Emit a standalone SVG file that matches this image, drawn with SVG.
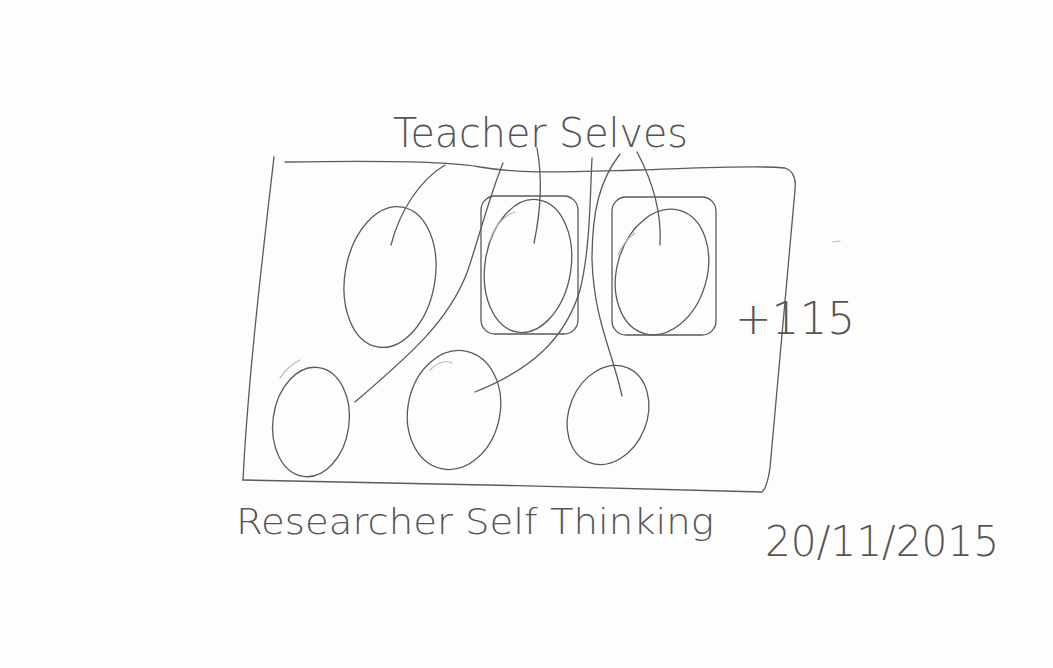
<svg xmlns="http://www.w3.org/2000/svg" width="1053" height="668" viewBox="0 0 1053 668">
<style>
.s{fill:none;stroke:#5a5a5a;stroke-width:1.3;stroke-linecap:round;stroke-linejoin:round}
.g{fill:none;stroke:#b8b8b8;stroke-width:1.2;stroke-linecap:round}
.t{font-family:"DejaVu Sans","Liberation Sans",sans-serif;font-weight:200;fill:#555}
</style>
<rect width="1053" height="668" fill="#fdfdfd"/>
<g id="frame">
<path class="s" d="M285,162 C400,160 455,162 480,167 C520,174 560,172 640,170 C700,168 760,165 785,168 Q797,172 795,190 L770,468 Q767,488 762,492 C600,488 400,482 243,480"/>
<path class="s" d="M274,157 C262,260 248,380 243,480"/>
</g>
<g id="teacher-self-1"><ellipse class="s" cx="390" cy="277" rx="45" ry="71" transform="rotate(10 390 277)"/></g>
<g id="teacher-self-2">
<rect class="s" x="481" y="196" width="97" height="138" rx="14"/>
<ellipse class="s" cx="528" cy="266" rx="43" ry="67" transform="rotate(9 528 266)"/>
<path class="g" d="M490,240 C495,225 505,215 515,212"/>
</g>
<g id="teacher-self-3">
<rect class="s" x="612" y="197" width="104" height="138" rx="14"/>
<ellipse class="s" cx="662" cy="272" rx="45" ry="64" transform="rotate(16 662 272)"/>
<path class="g" d="M618,255 C622,245 628,238 635,233"/>
</g>
<g id="teacher-self-4"><ellipse class="s" cx="311" cy="422" rx="38" ry="55" transform="rotate(8 311 422)"/>
<path class="g" d="M280,378 C285,370 292,364 300,360"/></g>
<g id="teacher-self-5"><ellipse class="s" cx="454" cy="410" rx="46" ry="60" transform="rotate(12 454 410)"/>
<path class="g" d="M430,370 C438,362 445,360 452,363"/></g>
<g id="teacher-self-6"><ellipse class="s" cx="608" cy="415" rx="39" ry="51" transform="rotate(22 608 415)"/></g>
<g id="connectors">
<path class="s" d="M445,165 C420,180 400,210 391,245"/>
<path class="s" d="M503,163 C490,195 478,240 468,270 C450,320 410,355 355,402"/>
<path class="s" d="M537,148 C542,175 542,205 534,243"/>
<path class="s" d="M592,158 C590,200 590,250 580,290 C565,340 530,370 475,392"/>
<path class="s" d="M620,154 C600,180 592,210 592,260 C594,320 612,350 622,396"/>
<path class="s" d="M637,152 C652,180 662,210 660,245"/>
<path class="g" d="M833,242 L840,241"/>
</g>
<g id="labels">
<text class="t" x="393" y="147" font-size="40" textLength="295" lengthAdjust="spacingAndGlyphs">Teacher Selves</text>
<text class="t" x="735" y="334" font-size="44" textLength="120" lengthAdjust="spacingAndGlyphs">+115</text>
<text class="t" x="236" y="534" font-size="36" textLength="478" lengthAdjust="spacingAndGlyphs">Researcher Self Thinking</text>
<text class="t" x="765" y="556" font-size="42" textLength="234" lengthAdjust="spacingAndGlyphs">20/11/2015</text>
</g>
</svg>
